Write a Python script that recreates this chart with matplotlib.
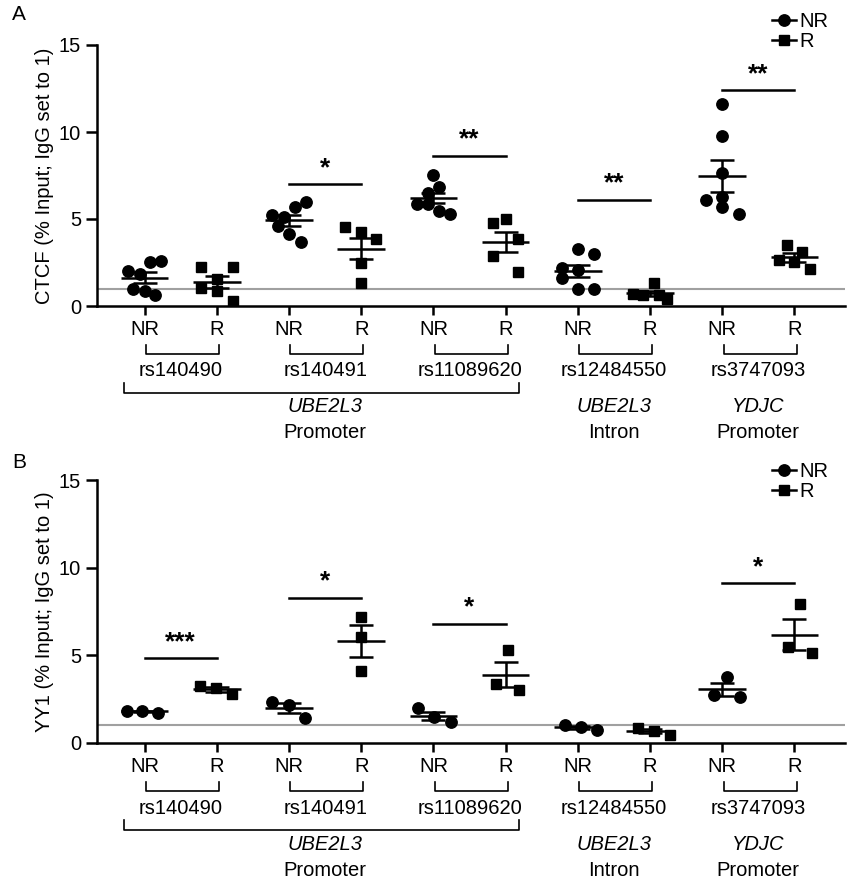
import numpy as np
import matplotlib.pyplot as plt
from matplotlib.lines import Line2D
from matplotlib import transforms

plt.rcParams['font.family'] = ['Liberation Sans', 'DejaVu Sans']

# x categories (NR / R for each SNP)
tick_labels = ['NR', 'R'] * 5
snps = ['rs140490', 'rs140491', 'rs11089620', 'rs12484550', 'rs3747093']
genes = [('UBE2L3', 'Promoter', 2.5), ('UBE2L3', 'Intron', 6.5), ('YDJC', 'Promoter', 8.5)]

# panel A: CTCF enrichment, one list per group
ctcf_vals = [
    [2.03, 1.84, 2.53, 2.59, 0.96, 0.88, 0.61],
    [2.26, 2.26, 1.53, 1.01, 0.88, 0.31],
    [5.23, 5.10, 5.71, 5.98, 4.60, 4.14, 3.68],
    [4.56, 4.25, 3.87, 2.49, 1.30],
    [7.53, 6.86, 6.51, 5.86, 5.86, 5.48, 5.29],
    [4.79, 4.98, 3.83, 2.87, 1.97],
    [3.26, 2.97, 2.17, 2.07, 1.63, 0.98, 0.98],
    [1.30, 0.67, 0.65, 0.63, 0.38],
    [11.61, 9.79, 7.63, 6.09, 6.28, 5.67, 5.27],
    [3.51, 3.12, 2.64, 2.55, 2.13],
]
# horizontal scatter spread of the points (category units)
ctcf_jit = [
    [-0.23, -0.07, 0.08, 0.23, -0.16, 0.0, 0.15],
    [-0.22, 0.22, 0.0, -0.22, 0.0, 0.22],
    [-0.23, -0.07, 0.08, 0.24, -0.15, 0.0, 0.16],
    [-0.23, 0.0, 0.21, 0.0, 0.0],
    [0.0, 0.07, -0.08, -0.23, -0.08, 0.07, 0.23],
    [-0.17, 0.0, 0.17, -0.17, 0.17],
    [0.0, 0.22, -0.22, 0.0, -0.22, 0.0, 0.22],
    [0.05, -0.24, -0.1, 0.13, 0.24],
    [0.0, 0.0, 0.0, -0.22, 0.0, 0.0, 0.23],
    [-0.11, 0.11, -0.22, 0.0, 0.22],
]
ctcf_sig = [(2, 3, '*', 7.0), (4, 5, '**', 8.64), (6, 7, '**', 6.09), (8, 9, '**', 12.4)]

# panel B: YY1 enrichment
yy1_vals = [
    [1.85, 1.83, 1.73],
    [3.26, 3.12, 2.80],
    [2.36, 2.17, 1.41],
    [7.21, 6.07, 4.11],
    [1.98, 1.47, 1.18],
    [5.31, 3.37, 3.03],
    [1.03, 0.93, 0.74],
    [0.84, 0.70, 0.46],
    [3.79, 2.74, 2.65],
    [7.94, 5.47, 5.12],
]
yy1_jit = [
    [-0.25, -0.03, 0.19],
    [-0.24, -0.01, 0.21],
    [-0.23, 0.0, 0.22],
    [0.0, 0.0, 0.0],
    [-0.21, 0.01, 0.24],
    [0.03, -0.14, 0.19],
    [-0.18, 0.05, 0.26],
    [-0.17, 0.05, 0.28],
    [0.06, -0.11, 0.24],
    [0.08, -0.09, 0.24],
]
yy1_sig = [(0, 1, '***', 4.82), (2, 3, '*', 8.27), (4, 5, '*', 6.78), (8, 9, '*', 9.1)]

W, H = 855, 882
fig = plt.figure(figsize=(W / 100, H / 100), dpi=100)
fig.set_facecolor('white')


def draw_panel(rect, vals, jit, sig, ylabel, letter, leg_y):
    ax = fig.add_axes(rect)
    ax_h = rect[3] * H

    def below(px):
        return -px / ax_h

    ax.axhline(1, color='#a0a0a0', lw=1.5, zorder=1)
    for i, (v, j) in enumerate(zip(vals, jit)):
        v = np.array(v)
        m = 'o' if i % 2 == 0 else 's'
        ms = 8.2 if m == 'o' else 7.5
        ax.plot(i + np.array(j), v, ls='none', marker=m, ms=ms, color='k', zorder=3)
        mean = v.mean()
        sem = v.std(ddof=1) / np.sqrt(len(v))
        ax.hlines(mean, i - 0.33, i + 0.33, color='k', lw=1.8, zorder=4)
        ax.errorbar(i, mean, yerr=sem, fmt='none', ecolor='k', elinewidth=1.8,
                    capsize=8.5, capthick=1.8, zorder=4)

    for a, b, s, y in sig:
        ax.plot([a, b], [y, y], color='k', lw=1.8)
        ax.text((a + b) / 2, y + 0.25, s, ha='center', va='bottom', fontsize=19, fontweight='bold')

    ax.set_xlim(-0.66, 9.7)
    ax.set_ylim(0, 15)
    ax.set_yticks([0, 5, 10, 15])
    ax.set_xticks(range(10))
    ax.set_xticklabels(tick_labels, fontsize=14.5)
    ax.tick_params(axis='y', labelsize=14.5, length=8, width=1.8, pad=3.5)
    ax.tick_params(axis='x', length=6.5, width=1.8, pad=3.5)
    for sp in ['top', 'right']:
        ax.spines[sp].set_visible(False)
    for sp in ['left', 'bottom']:
        ax.spines[sp].set_linewidth(1.8)
    ax.set_ylabel(ylabel, fontsize=14.5)
    ax.yaxis.set_label_coords(-0.058, 0.5)

    tr = transforms.blended_transform_factory(ax.transData, ax.transAxes)
    # NR/R brackets with SNP names
    for k, name in enumerate(snps):
        a, b = 2 * k + 0.02, 2 * k + 1.03
        ax.plot([a, a, b, b], [below(39), below(48), below(48), below(39)],
                transform=tr, clip_on=False, color='k', lw=1.2)
        ax.text(2 * k + 0.5, below(65), name, transform=tr, ha='center', va='center', fontsize=14.5)
    # promoter bracket over first three SNPs
    ax.plot([-0.29, -0.29, 5.18, 5.18], [below(77), below(87), below(87), below(77)],
            transform=tr, clip_on=False, color='k', lw=1.2)
    for g, reg, x in genes:
        ax.text(x, below(101), g, transform=tr, ha='center', va='center', fontsize=14.5, style='italic')
        ax.text(x, below(127), reg, transform=tr, ha='center', va='center', fontsize=14.5)

    fig.text(12 / W, 1 - leg_y[0] / H, letter, fontsize=15, va='center', ha='left')
    handles = [Line2D([], [], color='k', lw=1.8, marker='o', ms=8.2),
               Line2D([], [], color='k', lw=1.8, marker='s', ms=7.5)]
    fig.legend(handles, ['NR', 'R'], loc='upper left',
               bbox_to_anchor=(772 / W, 1 - leg_y[1] / H), frameon=False, fontsize=14.5,
               handlelength=1.2, handletextpad=0.15, labelspacing=0.05,
               borderpad=0, borderaxespad=0)
    return ax


axA = draw_panel([97 / W, 1 - 306 / H, 748 / W, 261 / H], ctcf_vals, ctcf_jit, ctcf_sig,
                 'CTCF (% Input; IgG set to 1)', 'A', (15, 12))
axB = draw_panel([97 / W, 1 - 743 / H, 748 / W, 263 / H], yy1_vals, yy1_jit, yy1_sig,
                 'YY1 (% Input; IgG set to 1)', 'B', (462, 462))

plt.savefig('out.png', dpi=100)
